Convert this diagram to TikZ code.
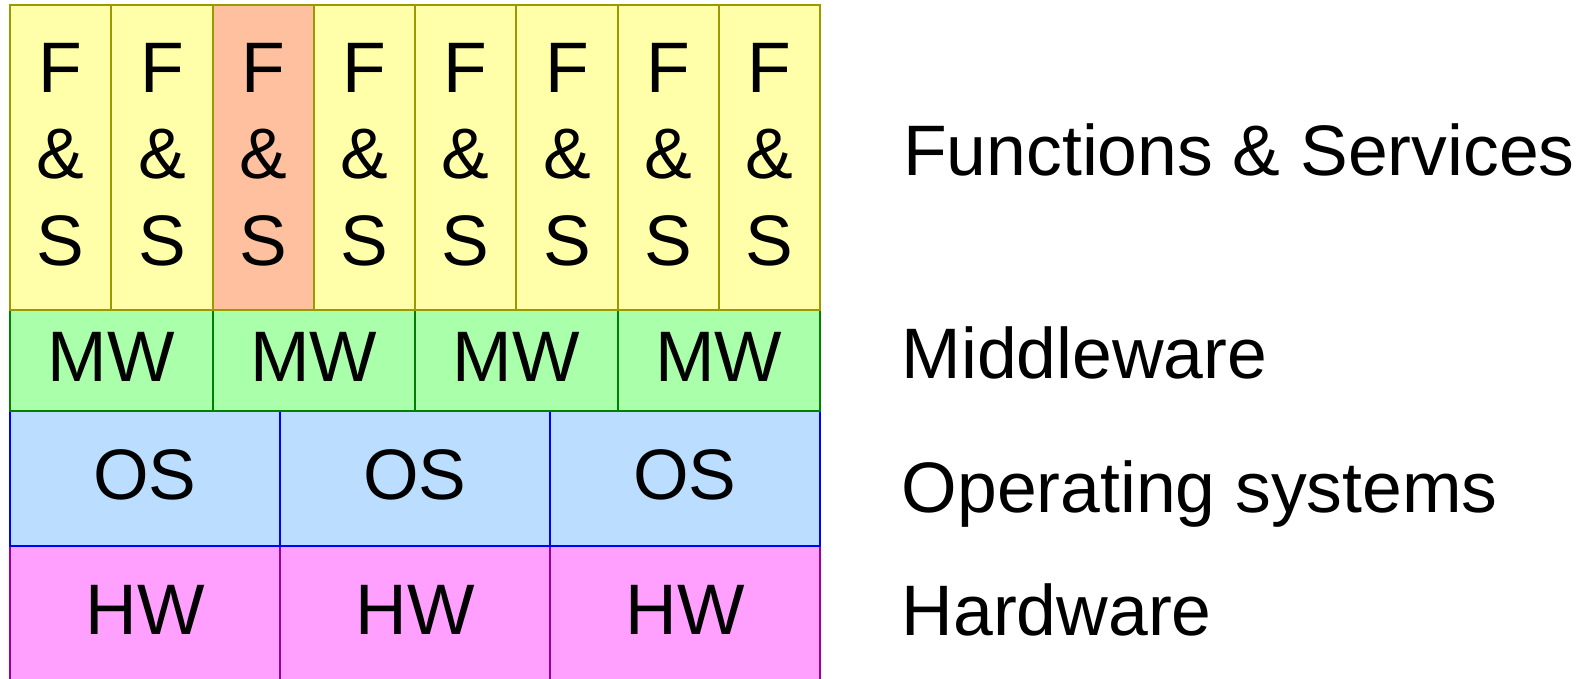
\documentclass[tikz,border=0pt]{standalone}
\usepackage{fontspec}
\setmainfont{Liberation Sans}
\begin{document}
\definecolor{fsfill}{HTML}{FFFFAA}
\definecolor{fsline}{HTML}{999900}
\definecolor{fshot}{HTML}{FFC0A0}
\definecolor{mwfill}{HTML}{AAFFAA}
\definecolor{mwline}{HTML}{008000}
\definecolor{osfill}{HTML}{BBDDFF}
\definecolor{osline}{HTML}{0000FF}
\definecolor{hwfill}{HTML}{FFA0FF}
\definecolor{hwline}{HTML}{990099}
\newcommand{\fstext}{F\\\&\\S\rule[-7pt]{0pt}{7pt}}
\begin{tikzpicture}[x=1pt,y=-1pt,
  big/.style={font=\fontsize{71.5}{86.5}\selectfont},
  cell/.style={big, rectangle, inner sep=0pt, line width=2pt,
    text height=51pt, text depth=8pt},
  hwcell/.style={cell, draw=hwline, fill=hwfill, minimum width=270pt, minimum height=134.3pt},
  oscell/.style={cell, draw=osline, fill=osfill, minimum width=270pt, minimum height=135pt},
  mwcell/.style={cell, draw=mwline, fill=mwfill, minimum width=202.5pt, minimum height=100.7pt},
  fscell/.style={big, rectangle, inner sep=0pt, line width=2pt, draw=fsline, fill=fsfill,
    minimum width=101.25pt, minimum height=304.5pt, align=center},
  layername/.style={big, anchor=base west, inner sep=0pt}]
\useasboundingbox (0,0) rectangle (1583,679);
\begin{scope}
\clip (0,0) rectangle (1583,679);
% hardware row (runs past the lower edge)
\foreach \i in {0,1,2}
  \node[hwcell] (hw\i) at ({10+270*(\i+0.5)}, 612.85) {HW};
% operating systems row
\foreach \i in {0,1,2}
  \node[oscell] (os\i) at ({10+270*(\i+0.5)}, 478.2) {OS};
% middleware row
\foreach \i in {0,1,2,3}
  \node[mwcell] (mw\i) at ({10+202.5*(\i+0.5)}, 360.35) {MW};
% functions and services columns, the third one highlighted
\foreach \i in {0,...,7}{
  \ifnum\i=2
    \node[fscell, fill=fshot] (fs\i) at ({10+101.25*(\i+0.5)}, 157.75) {\fstext};
  \else
    \node[fscell] (fs\i) at ({10+101.25*(\i+0.5)}, 157.75) {\fstext};
  \fi
}
\end{scope}
% layer names
\node[layername] (lfs) at (903, 175.7) {Functions \& Services};
\node[layername] (lmw) at (901.5, 378.3) {Middleware};
\node[layername] (los) at (901.5, 512.7) {Operating systems};
\node[layername] (lhw) at (901.5, 635) {Hardware};
\end{tikzpicture}
\end{document}
